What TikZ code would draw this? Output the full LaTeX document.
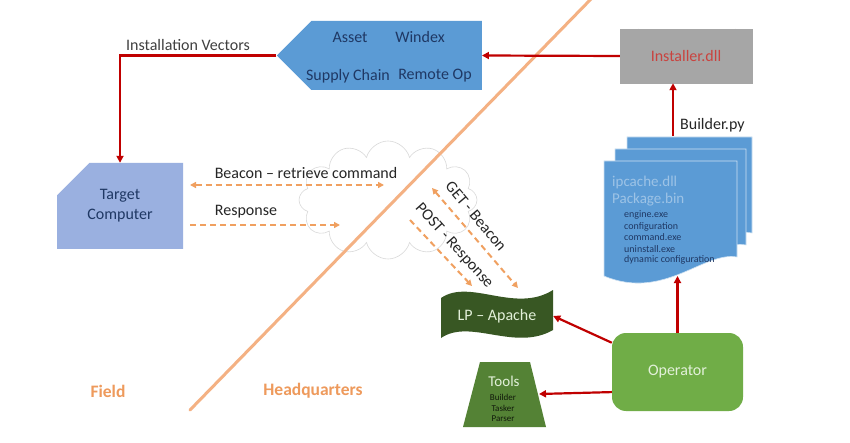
\documentclass[tikz,border=0pt]{standalone}
\usepackage{fontspec}
\setmainfont{Carlito}
\usetikzlibrary{arrows.meta,shapes.symbols,shapes.misc,shapes.geometric}
\definecolor{arrowred}{HTML}{C00000}
\definecolor{dashorange}{HTML}{F0A060}
\definecolor{hqorange}{HTML}{F4B183}
\definecolor{labelorange}{HTML}{EE9A5C}
\definecolor{assetblue}{HTML}{5B9BD5}
\definecolor{targetblue}{HTML}{9AB0E0}
\definecolor{navy}{HTML}{1F3864}
\definecolor{darktext}{HTML}{262626}
\definecolor{lpgreen}{HTML}{385723}
\definecolor{toolgreen}{HTML}{548235}
\definecolor{opgreen}{HTML}{70AD47}
\definecolor{lightgreen}{HTML}{E2F0D9}
\definecolor{installgray}{HTML}{A6A6A6}
\definecolor{installred}{HTML}{C9433F}
\definecolor{fainttext}{HTML}{9DC3E6}
\begin{document}
\begin{tikzpicture}[x=1pt,y=-1pt,
  redarrow/.style={draw=arrowred, line width=2.2pt, -{Triangle[length=7pt,width=7pt]}},
  orangedash/.style={draw=dashorange, line width=2pt, dash pattern=on 6pt off 4pt},
  otip/.style={-{Triangle[length=6pt,width=6pt]}},
  otips/.style={{Triangle[length=6pt,width=6pt]}-{Triangle[length=6pt,width=6pt]}},
  lbl/.style={font=\fontsize{16}{18}\selectfont, text=darktext, inner sep=0},
  boxtext/.style={font=\fontsize{16}{18}\selectfont, text=navy, inner sep=0},
  smalltext/.style={font=\fontsize{10}{11}\selectfont, text=navy, inner sep=0, anchor=west},
  subtext/.style={inner sep=0, text=black!80!toolgreen, font=\fontsize{9}{10}\selectfont},
  docstyle/.style={fill=assetblue, draw=white!70!assetblue, line width=0.6pt},
  region/.style={font=\bfseries\fontsize{17.5}{20}\selectfont, text=labelorange, inner sep=0}
]
\useasboundingbox[fill=white] (0,0) rectangle (850,443);

% cloud (background)
\node[cloud, cloud puffs=12, aspect=1.5, minimum width=178pt, minimum height=118pt,
      draw=black!15, fill=white, line width=0.6pt] (cloud) at (388,200) {};

% field / headquarters divider
\coordinate (hqtop) at (591,-1);
\coordinate (hqbot) at (190,410);
\draw[hqorange, line width=3pt, line cap=round] (hqtop) -- (hqbot);

% Asset pentagon
\node[signal, signal to=west, signal pointer angle=90, minimum width=205pt,
      minimum height=69pt, inner sep=0, fill=assetblue] (asset) at (396.5,55.5) {};
\node[boxtext] (tasset) at (350,37) {Asset};
\node[boxtext] (twindex) at (420,37) {Windex};
\node[boxtext] (tsupply) at (348,76) {Supply Chain};
\node[boxtext] (tremote) at (435,76) {Remote Op};

% Installer.dll
\node[rectangle, minimum width=132pt, minimum height=54pt, fill=installgray,
      draw=black!35, line width=0.5pt, text=installred,
      font=\fontsize{16}{18}\selectfont] (inst) at (686,56) {Installer.dll};
\draw[black!35, line width=0.5pt] ([xshift=18pt]inst.north west) -- ([xshift=18pt]inst.south west);
\draw[black!35, line width=0.5pt] ([xshift=-17pt]inst.north east) -- ([xshift=-17pt]inst.south east);

% Target computer
\node[chamfered rectangle, chamfered rectangle corners=north west,
      chamfered rectangle xsep=25pt, chamfered rectangle ysep=16pt,
      minimum width=126pt, minimum height=86pt, inner sep=0, fill=targetblue,
      text=navy, align=center, font=\fontsize{16}{20}\selectfont] (target) at (120,206) {Target\\Computer};

% installation arrows
\draw[redarrow] (inst.west) -- (asset.east);
\draw[redarrow] (asset.west) -| (target.north);
\node[lbl, text=black!75] (tinst) at (188,45) {Installation Vectors};

% Beacon / response
\coordinate (b1) at (190,185);
\coordinate (b2) at (384,185);
\draw[orangedash, otips] (b1) -- (b2);
\node[lbl] (tbeacon) at (306,173) {Beacon – retrieve command};
\coordinate (r1) at (190,225);
\coordinate (r2) at (340,225);
\draw[orangedash, otip] (r1) -- (r2);
\node[lbl] (tresp) at (246,212) {Response};

% LP - Apache
\path[fill=lpgreen] (441,298) .. controls (470,278) and (515,314) .. (553,290)
   -- (553,330) .. controls (515,352) and (470,318) .. (441,338) -- cycle;
\node[minimum width=112pt, minimum height=40pt, inner sep=0, text=lightgreen,
      font=\fontsize{16}{18}\selectfont] (lp) at (497,316) {LP – Apache};

% GET / POST
\coordinate (g1) at (432,188);
\coordinate (g2) at (518,288);
\draw[orangedash, otips] (g1) -- (g2);
\node[lbl, rotate=-50] (tget) at (476,216) {GET - Beacon};
\coordinate (p1) at (410,220);
\coordinate (p2) at (472,286);
\draw[orangedash, otip] (p1) -- (p2);
\node[lbl, rotate=-48] (tpost) at (454,246) {POST - Response};

% Tools
\path[fill=toolgreen] (480,362) -- (530,362) -- (546,427) -- (463,427) -- cycle;
\node[inner sep=0, text=lightgreen, font=\fontsize{15}{17}\selectfont] (ttools) at (504,381) {Tools};
\node[subtext] (tbuilder) at (503,397) {Builder};
\node[subtext] (ttasker) at (503,408) {Tasker};
\node[subtext] (tparser) at (503,419) {Parser};
\coordinate (toolsE) at (539,394);

% Operator
\node[rectangle, rounded corners=14pt, minimum width=131pt, minimum height=78pt,
      fill=opgreen, text=lightgreen, font=\fontsize{16}{18}\selectfont] (op) at (677.5,372) {Operator};

% stacked documents
\foreach \dx/\dy/\w in {627/137/125, 615/149/131, 604/161/133} {
  \path[docstyle, shift={(\dx,\dy)}] (0,0) -- (\w,0) -- (\w,96)
     .. controls ({0.75*\w},90) and ({0.45*\w},140) .. (0,115) -- cycle;
}
\node[inner sep=0, anchor=west, text=fainttext, font=\fontsize{15}{17}\selectfont] (tcache) at (612,183) {ipcache.dll};
\node[inner sep=0, anchor=west, text=fainttext, font=\fontsize{15}{17}\selectfont] (tpkg) at (612,200) {Package.bin};
\node[smalltext] (t1) at (624,215) {engine.exe};
\node[smalltext] (t2) at (624,226.5) {configuration};
\node[smalltext] (t3) at (624,237.5) {command.exe};
\node[smalltext] (t4) at (624,249) {uninstall.exe};
\node[smalltext] (t5) at (624,260) {dynamic configuration};
\coordinate (docbot) at (677.5,276);
\coordinate (doctop) at (673,136);

% operator arrows
\draw[redarrow] (op.156) -- (lp.east);
\draw[redarrow] (op.197) -- (toolsE);
\draw[redarrow] (op.north) -- (docbot);
\draw[redarrow] (doctop) -- (doctop |- inst.south);
\node[lbl, anchor=west] (tbuilderpy) at (680,125) {Builder.py};

% region labels
\node[region] (field) at (108,391) {Field};
\node[region] (hq) at (313,391) {Headquarters};
\end{tikzpicture}
\end{document}
